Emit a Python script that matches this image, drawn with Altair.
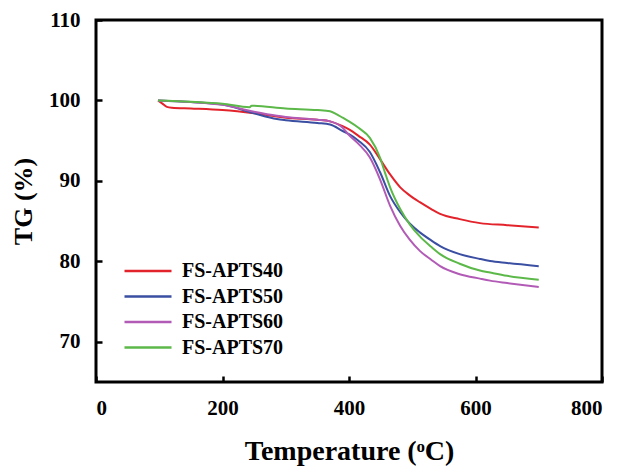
import altair as alt
import pandas as pd

series = ["FS-APTS40", "FS-APTS50", "FS-APTS60", "FS-APTS70"]
colors = ["#e3232b", "#3a4ea2", "#b25bb6", "#5cb849"]

t40 = [98, 105, 112, 120, 150, 200, 250, 300, 350, 370, 390, 400, 415, 433, 449, 465, 481, 496, 512, 530, 544, 575, 607, 650, 700]
v40 = [100.0, 99.6, 99.2, 99.1, 99.0, 98.8, 98.4, 97.85, 97.6, 97.4, 96.8, 96.4, 95.6, 94.5, 92.7, 90.8, 89.2, 88.2, 87.35, 86.5, 85.9, 85.25, 84.75, 84.5, 84.2]

t50 = [98, 150, 200, 250, 286, 300, 350, 370, 390, 400, 415, 433, 449, 465, 481, 496, 512, 530, 544, 575, 607, 623, 650, 700]
v50 = [100.0, 99.8, 99.5, 98.4, 97.7, 97.55, 97.2, 97.0, 96.2, 95.8, 95.0, 93.6, 91.1, 88.1, 86.1, 84.7, 83.6, 82.6, 81.9, 80.9, 80.3, 80.05, 79.8, 79.4]

t60 = [98, 150, 200, 250, 286, 300, 350, 370, 390, 400, 415, 433, 449, 465, 481, 496, 512, 530, 544, 575, 607, 623, 650, 700]
v60 = [100.0, 99.8, 99.45, 98.6, 98.1, 97.95, 97.6, 97.4, 96.6, 95.7, 94.6, 92.9, 90.2, 86.9, 84.4, 82.7, 81.3, 80.2, 79.4, 78.4, 77.85, 77.6, 77.3, 76.8]

t70 = [98, 150, 200, 243, 246, 300, 350, 370, 380, 390, 400, 415, 433, 449, 457, 465, 481, 496, 512, 530, 544, 575, 607, 623, 650, 700]
v70 = [100.0, 99.85, 99.6, 99.15, 99.35, 99.0, 98.8, 98.65, 98.3, 97.85, 97.4, 96.6, 95.35, 92.9, 91.0, 89.2, 86.5, 84.6, 83.1, 81.8, 80.9, 79.7, 78.85, 78.6, 78.2, 77.7]

x_ticks = [0, 200, 400, 600, 800]
y_ticks = [70, 80, 90, 100, 110]

rows = []
for name, ts, vs in zip(series, [t40, t50, t60, t70], [v40, v50, v60, v70]):
    for t, v in zip(ts, vs):
        rows.append({"series": name, "T": t, "TG": v})
df = pd.DataFrame(rows)

FONT = "Liberation Serif"

chart = alt.Chart(df).mark_line(strokeWidth=2, interpolate="monotone").encode(
    x=alt.X("T:Q",
            scale=alt.Scale(domain=[0, 800], nice=False),
            axis=alt.Axis(values=x_ticks, title="Temperature (ᵒC)", offset=-6,
                          labelPadding=15, titleY=83, titleBaseline="alphabetic")),
    y=alt.Y("TG:Q",
            scale=alt.Scale(domain=[65, 110], nice=False, zero=False),
            axis=alt.Axis(values=y_ticks, title="TG (%)", offset=-6,
                          labelPadding=16, titleX=-71, titleY=181, titleFontSize=26,
                          titleBaseline="alphabetic", titleAngle=-90)),
    color=alt.Color("series:N",
                    scale=alt.Scale(domain=series, range=colors),
                    legend=alt.Legend(title=None, orient="none", legendX=27, legendY=239,
                                      symbolType="stroke", symbolSize=2209,
                                      symbolStrokeWidth=2.5, labelOffset=9,
                                      clipHeight=24, rowPadding=1.5, padding=0,
                                      labelFont=FONT, labelFontSize=20,
                                      labelFontWeight="bold", labelColor="black")),
    order=alt.Order("series:N", sort="descending"),
).properties(
    width=506, height=362,
    padding={"left": 88, "top": 12, "right": 8, "bottom": 84},
    autosize="none",
).configure_view(
    stroke="black", strokeWidth=3
).configure_axis(
    domain=False, grid=False,
    tickColor="black", tickWidth=2.5, tickSize=6,
    labelFont=FONT, labelFontSize=21, labelFontWeight="bold", labelColor="black",
    titleFont=FONT, titleFontSize=28, titleFontWeight="bold", titleColor="black",
)

chart.save("out.html", embed_options={"renderer": "svg", "actions": False})
